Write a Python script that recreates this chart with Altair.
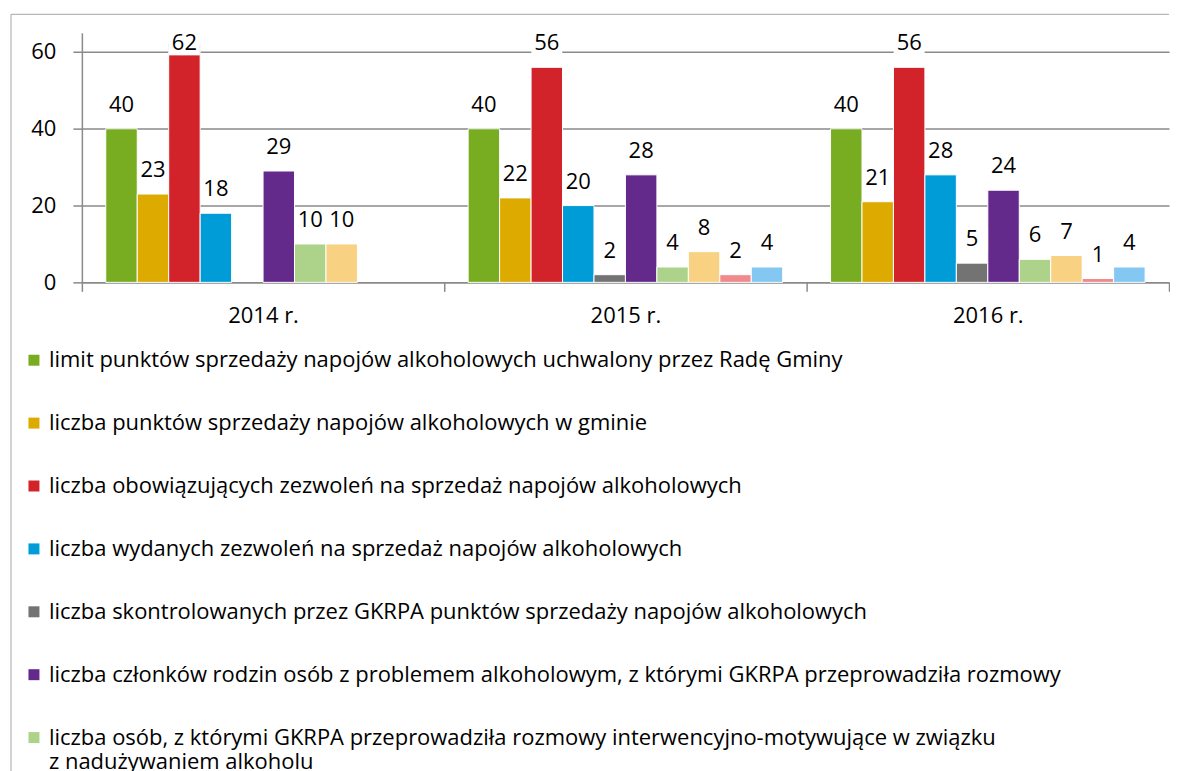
import altair as alt
import pandas as pd

FONT = "Open Sans"
FS = 22

years = ["2014 r.", "2015 r.", "2016 r."]
series = [
    "limit punktów sprzedaży napojów alkoholowych uchwalony przez Radę Gminy",
    "liczba punktów sprzedaży napojów alkoholowych w gminie",
    "liczba obowiązujących zezwoleń na sprzedaż napojów alkoholowych",
    "liczba wydanych zezwoleń na sprzedaż napojów alkoholowych",
    "liczba skontrolowanych przez GKRPA punktów sprzedaży napojów alkoholowych",
    "liczba członków rodzin osób z problemem alkoholowym, z którymi GKRPA przeprowadziła rozmowy",
    "liczba osób, z którymi GKRPA przeprowadziła rozmowy interwencyjno-motywujące w związku|z nadużywaniem alkoholu",
    "liczba wniosków o zobowiązanie do leczenia odwykowego",
    "liczba osób skierowanych na badanie przez biegłych",
    "liczba spraw skierowanych do sądu",
]
colors = ["#78AC21", "#DDAA00", "#D2232A", "#009CD8", "#737373",
          "#632A8B", "#ADD28A", "#F8D282", "#F08A8C", "#84C7F2"]

v2014 = [40, 23, 62, 18, None, 29, 10, 10, None, None]
v2015 = [40, 22, 56, 20, 2, 28, 4, 8, 2, 4]
v2016 = [40, 21, 56, 28, 5, 24, 6, 7, 1, 4]

rows = []
for yr, vals in zip(years, [v2014, v2015, v2016]):
    for s, v in zip(series, vals):
        if v is not None:
            rows.append({"rok": yr, "seria": s, "wartosc": v})
df = pd.DataFrame(rows)

Y_MAX = 65
LABEL_CAP = 56
GRID = "#8a8a8a"
W, H = 1089, 250

x_enc = alt.X("rok:N", sort=years,
              scale=alt.Scale(paddingInner=0, paddingOuter=0),
              axis=alt.Axis(title=None, tickBand="extent", tickSize=9, tickColor=GRID,
                            tickWidth=1.5, domainColor=GRID, domainWidth=1.5,
                            labelAngle=0, labelPadding=14, labelFont=FONT,
                            labelFontSize=FS, labelColor="#000"))
xo_enc = alt.XOffset("seria:N", sort=series,
                     scale=alt.Scale(domain=series, paddingInner=0, paddingOuter=0.76))
y_enc = alt.Y("wartosc:Q",
              scale=alt.Scale(domain=[0, Y_MAX], nice=False),
              axis=alt.Axis(title=None, values=[0, 20, 40, 60], grid=True, gridColor=GRID,
                            gridWidth=1.5, domainColor=GRID, domainWidth=1.5,
                            tickColor=GRID, tickWidth=1.5, tickSize=9, labelPadding=17,
                            labelFont=FONT, labelFontSize=FS, labelColor="#000"))

base = alt.Chart(df).encode(x=x_enc, xOffset=xo_enc)

bars = base.mark_bar(stroke="white", strokeWidth=1).encode(
    y=y_enc,
    color=alt.Color("seria:N", sort=series,
                    scale=alt.Scale(domain=series, range=colors),
                    legend=alt.Legend(title=None, orient="none", legendX=-59, legendY=317,
                                      direction="vertical", symbolType="square",
                                      symbolSize=121, symbolStrokeWidth=0,
                                      labelFont=FONT, labelFontSize=FS, labelColor="#000",
                                      labelOffset=4, rowPadding=41, labelLimit=2000,
                                      labelExpr="split(datum.label, '|')")),
)

lab = base.transform_calculate(label_y=f"min(datum.wartosc, {LABEL_CAP})")

boxes = lab.mark_point(
    shape="M-1,-0.774L1,-0.774L1,0.774L-1,0.774Z", size=961, filled=True,
    fill="white", opacity=1, strokeWidth=0, yOffset=-24,
).encode(y=alt.Y("label_y:Q", scale=alt.Scale(domain=[0, Y_MAX], nice=False)))

texts = lab.mark_text(dy=-24, baseline="middle", font=FONT, fontSize=FS, color="#000").encode(
    y=alt.Y("label_y:Q", scale=alt.Scale(domain=[0, Y_MAX], nice=False)),
    text=alt.Text("wartosc:Q"),
)

frame = alt.Data(values=[{}])
top_line = alt.Chart(frame).mark_rule(stroke="#a6a6a6", strokeWidth=1).encode(
    x=alt.value(-71), x2=alt.value(W), y=alt.value(-18.5))
left_line = alt.Chart(frame).mark_rule(stroke="#a6a6a6", strokeWidth=1).encode(
    x=alt.value(-71), y=alt.value(-18.5), y2=alt.value(940))

chart = alt.layer(top_line, left_line, bars, boxes, texts).properties(
    width=W, height=H,
    padding={"left": 2, "top": 5, "right": 0, "bottom": 0},
).configure_view(strokeWidth=0)

chart.save("out.html", embed_options={"renderer": "svg", "actions": False})
